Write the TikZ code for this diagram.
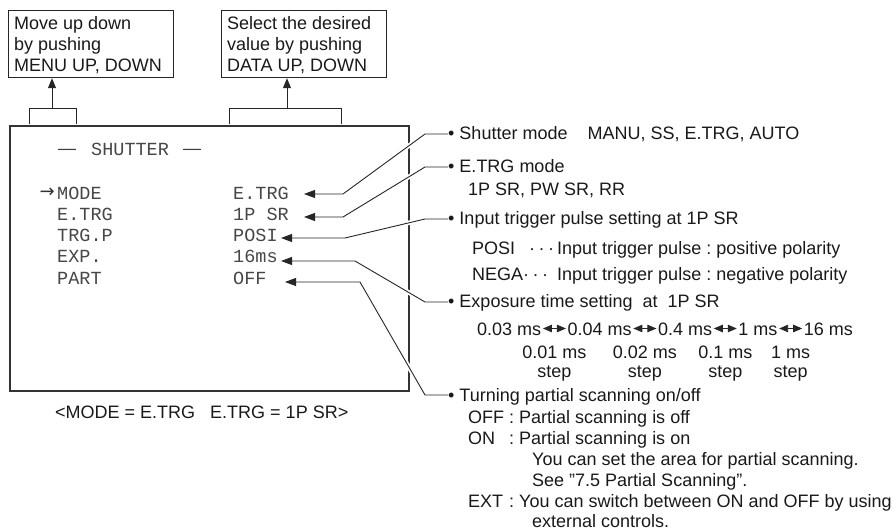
\documentclass[tikz,border=0pt]{standalone}
\usepackage{fontspec}
\setmainfont{Liberation Sans}
\newfontfamily\scrfont{Liberation Mono}
\newfontfamily\symfont{DejaVu Sans}
\usetikzlibrary{arrows.meta,calc}
\frenchspacing
\tikzset{
  txt/.style={inner sep=0pt, anchor=base west, font=\frenchspacing\fontsize{18}{21}\selectfont, text=black!90},
  bul/.style={inner sep=0pt, anchor=west, text height=12pt, text depth=0pt, font=\frenchspacing\fontsize{18}{21}\selectfont, text=black!90},
  scr/.style={inner sep=0pt, anchor=base west, font=\scrfont\fontsize{18.5}{21}\selectfont, text=black!72},
  infobox/.style={draw=black!85, line width=1.2pt, inner sep=0pt, anchor=north west},
  scrbox/.style={draw=black!80, line width=2.2pt, inner sep=0pt, anchor=north west, minimum width=399pt, minimum height=265pt},
  bracket/.style={draw=black!85, line width=1pt},
  uparrow/.style={draw=black!85, line width=1pt, -{Triangle[length=10pt,width=8pt]}},
  leader/.style={draw=black!85, line width=0.9pt, -{Triangle[length=11pt,width=8pt]},
                 preaction={draw=white, line width=4.5pt, -}},
  dbl/.style={draw=black!85, line width=0.9pt, {Triangle[length=9pt,width=7.5pt]}-{Triangle[length=9pt,width=7.5pt]}},
}
\begin{document}
\begin{tikzpicture}[x=1pt,y=-1pt]
\useasboundingbox (0,0) rectangle (894,529);

% --- top info boxes
\node[infobox, minimum width=165pt, minimum height=67pt] (boxL) at (8,10) {};
\node[txt] (l1) at (14,30) {Move up down};
\node[txt] (l2) at (14,51) {by pushing};
\node[txt] (l3) at (14,72) {MENU UP, DOWN};

\node[infobox, minimum width=165pt, minimum height=67pt] (boxR) at (221,10) {};
\node[txt] (r1) at (227,30) {Select the desired};
\node[txt] (r2) at (227,51) {value by pushing};
\node[txt] (r3) at (227,72) {DATA UP, DOWN};

% --- screen box
\node[scrbox] (scr) at (9,125) {};

% brackets and arrows
\coordinate (brL) at (52,109);
\coordinate (brR) at (287,109);
\draw[bracket] (29,124) |- (76,109) -- (76,124);
\draw[bracket] (229,124) |- (341,109) -- (341,124);
\draw[uparrow] (brL) -- (brL |- boxL.south);
\draw[uparrow] (brR) -- (brR |- boxR.south);

% screen content
\node[txt, text=black!75] (d1) at (58,155) {—};
\node[scr] (title) at (91,155.5) {SHUTTER};
\node[txt, text=black!75] (d2) at (183,155) {—};

\node[inner sep=0pt, anchor=base east, font=\symfont\fontsize{18}{21}\selectfont, text=black!80] (cur) at (55,198) {→};
\node[scr] (k1) at (57,200) {MODE};
\node[scr] (k2) at (57,221) {E.TRG};
\node[scr] (k3) at (57,242) {TRG.P};
\node[scr] (k4) at (57,263) {EXP.};
\node[scr] (k5) at (57,284) {PART};
\node[scr] (v1) at (233,200) {E.TRG};
\node[scr] (v2) at (233,221) {1P SR};
\node[scr] (v3) at (233,242) {POSI};
\node[scr] (v4) at (233,263) {16ms};
\node[scr] (v5) at (233,284) {OFF};

\node[txt] (cap) at (55,418) {<MODE = E.TRG\ \ \ E.TRG = 1P SR>};

% --- right side descriptions
\node[bul] (b1) at (448,134) {• Shutter mode\hspace{20pt}MANU, SS, E.TRG, AUTO};
\node[bul] (b2) at (448,167) {• E.TRG mode};
\node[txt] (b2a) at (468,196) {1P SR, PW SR, RR};
\node[bul] (b3) at (448,219) {• Input trigger pulse setting at 1P SR};
\node[txt] (p1) at (472,255) {POSI};
\node[txt] (p1d) at (529,255) {·\kern3.5pt·\kern3.5pt·};
\node[txt] (p1t) at (557,255) {Input trigger pulse : positive polarity};
\node[txt] (n1) at (472,280) {NEGA};
\node[txt] (n1d) at (523,280) {·\kern3.5pt·\kern3.5pt·};
\node[txt] (n1t) at (557,280) {Input trigger pulse : negative polarity};
\node[bul] (b4) at (448,302) {• Exposure time setting\ \ at\ \ 1P SR};

\node[txt] (e1) at (477,335) {0.03 ms};
\node[txt] (e2) at ($(e1.base east)+(26,0)$) {0.04 ms};
\node[txt] (e3) at ($(e2.base east)+(26,0)$) {0.4 ms};
\node[txt] (e4) at ($(e3.base east)+(26,0)$) {1 ms};
\node[txt] (e5) at ($(e4.base east)+(26,0)$) {16 ms};
\draw[dbl] ($(e1.base east)+(1.5,-6.5)$) -- ($(e2.base west)+(-1.5,-6.5)$);
\draw[dbl] ($(e2.base east)+(1.5,-6.5)$) -- ($(e3.base west)+(-1.5,-6.5)$);
\draw[dbl] ($(e3.base east)+(1.5,-6.5)$) -- ($(e4.base west)+(-1.5,-6.5)$);
\draw[dbl] ($(e4.base east)+(1.5,-6.5)$) -- ($(e5.base west)+(-1.5,-6.5)$);
\node[txt, anchor=base] (s1) at ($(e1.base east)!0.5!(e2.base west)+(0,23)$) {0.01 ms};
\node[txt, anchor=base] (s2) at ($(e2.base east)!0.5!(e3.base west)+(0,23)$) {0.02 ms};
\node[txt, anchor=base] (s3) at ($(e3.base east)!0.5!(e4.base west)+(0,23)$) {0.1 ms};
\node[txt, anchor=base] (s4) at ($(e4.base east)!0.5!(e5.base west)+(0,23)$) {1 ms};
\node[txt, anchor=base] (t1s) at ($(s1.base)+(0,19)$) {step};
\node[txt, anchor=base] (t2s) at ($(s2.base)+(0,19)$) {step};
\node[txt, anchor=base] (t3s) at ($(s3.base)+(0,19)$) {step};
\node[txt, anchor=base] (t4s) at ($(s4.base)+(0,19)$) {step};

\node[bul] (b5) at (448,395) {• Turning partial scanning on/off};
\node[txt] (o1) at (468,423) {OFF};
\node[txt] (o1t) at (509,423) {: Partial scanning is off};
\node[txt] (o2) at (468,444) {ON};
\node[txt] (o2t) at (509,444) {: Partial scanning is on};
\node[txt] (o2a) at (532,465) {You can set the area for partial scanning.};
\node[txt] (o2b) at (532,486) {See "7.5 Partial Scanning".};
\node[txt] (o3) at (468,507) {EXT};
\node[txt] (o3t) at (509,507) {: You can switch between ON and OFF by using};
\node[txt] (o3a) at (532,527) {external controls.};

% --- leaders
\coordinate (tp1) at (304,194); \coordinate (kn1) at (343,194); \coordinate (mb1) at (425,134);
\coordinate (tp2) at (304,217); \coordinate (kn2) at (343,217); \coordinate (mb2) at (425,167);
\coordinate (tp3) at (281,238); \coordinate (kn3) at (345,238); \coordinate (mb3) at (425,219);
\coordinate (tp4) at (281,261); \coordinate (kn4) at (355,261); \coordinate (mb4) at (425,302);
\coordinate (tp5) at (285,282); \coordinate (kn5) at (360,282); \coordinate (mb5) at (425,395);
\draw[leader] (b1.west) -- (mb1) -- (kn1) -- (tp1);
\draw[leader] (b2.west) -- (mb2) -- (kn2) -- (tp2);
\draw[leader] (b3.west) -- (mb3) -- (kn3) -- (tp3);
\draw[leader] (b4.west) -- (mb4) -- (kn4) -- (tp4);
\draw[leader] (b5.west) -- (mb5) -- (kn5) -- (tp5);
\end{tikzpicture}
\end{document}
